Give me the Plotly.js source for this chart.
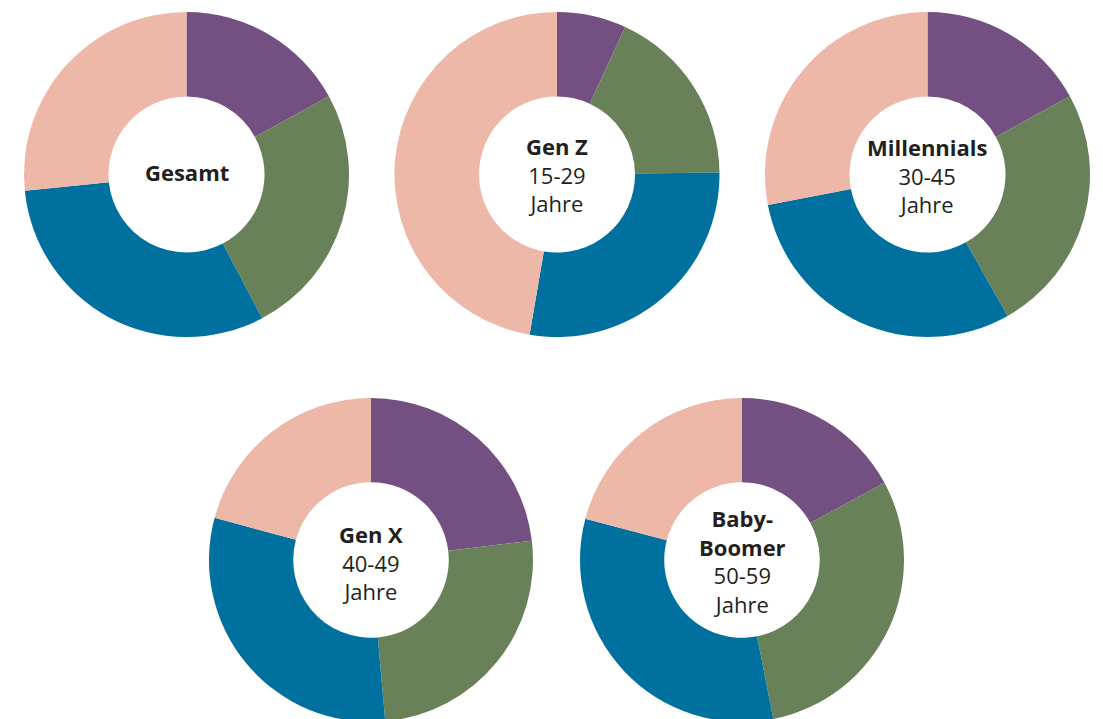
<!DOCTYPE html>
<html>
<head>
<meta charset="utf-8">
<script src="https://cdn.plot.ly/plotly-3.0.1.min.js"></script>
<style>
html,body{margin:0;padding:0;background:#fff;overflow:hidden;}
#chart{width:1103px;height:722px;}
</style>
</head>
<body>
<div id="chart"></div>
<script>
// Data (shares in %, clockwise from 12 o'clock: purple, green, blue, pink)
const categories = ["Kategorie 1", "Kategorie 2", "Kategorie 3", "Kategorie 4"];
const gesamt = [17, 25.3, 31.1, 26.6];
const genZ = [6.9, 17.9, 27.9, 47.3];
const millennials = [17, 24.8, 30.2, 28];
const genX = [23.1, 25.5, 30.6, 20.8];
const babyBoomer = [17.1, 29.8, 32.2, 20.9];

const groupLabels = [
  "<b>Gesamt</b>",
  "<b>Gen Z</b><br>15-29<br>Jahre",
  "<b>Millennials</b><br>30-45<br>Jahre",
  "<b>Gen X</b><br>40-49<br>Jahre",
  "<b>Baby-</b><br><b>Boomer</b><br>50-59<br>Jahre"
];
const seriesList = [gesamt, genZ, millennials, genX, babyBoomer];

// Layout (pixel centers / radius)
const W = 1103, H = 722;
const centers = [[186.5, 174.5], [557, 174.5], [927.5, 174.5], [371, 560.5], [742, 560.5]];
const textDy = [-2, 0, 1, 2, 0];
const R = 162.5;
const colors = ["#744f82", "#688158", "#00719f", "#edb8a7"];

const traces = [];
const annotations = [];
seriesList.forEach((vals, i) => {
  const [cx, cy] = centers[i];
  const x0 = (cx - R) / W, x1 = (cx + R) / W;
  const y0 = (H - cy - R) / H, y1 = (H - cy + R) / H;
  traces.push({
    type: "pie",
    labels: categories,
    values: vals,
    hole: 0.48,
    sort: false,
    direction: "clockwise",
    rotation: 0,
    textinfo: "none",
    hoverinfo: "label+percent",
    marker: {colors: colors, line: {width: 0}},
    domain: {x: [x0, x1], y: [y0, y1]},
    showlegend: false
  });
  annotations.push({
    text: groupLabels[i],
    x: cx / W,
    y: (H - cy) / H,
    xref: "paper", yref: "paper",
    xanchor: "center", yanchor: "middle",
    yshift: -textDy[i],
    showarrow: false,
    align: "center",
    font: {family: "Open Sans, sans-serif", size: 22, color: "#231f20"}
  });
});

Plotly.newPlot("chart", traces, {
  width: W, height: H,
  margin: {l: 0, r: 0, t: 0, b: 0},
  paper_bgcolor: "#ffffff",
  plot_bgcolor: "#ffffff",
  annotations: annotations,
  showlegend: false
}, {displayModeBar: false, staticPlot: true});
</script>
</body>
</html>
